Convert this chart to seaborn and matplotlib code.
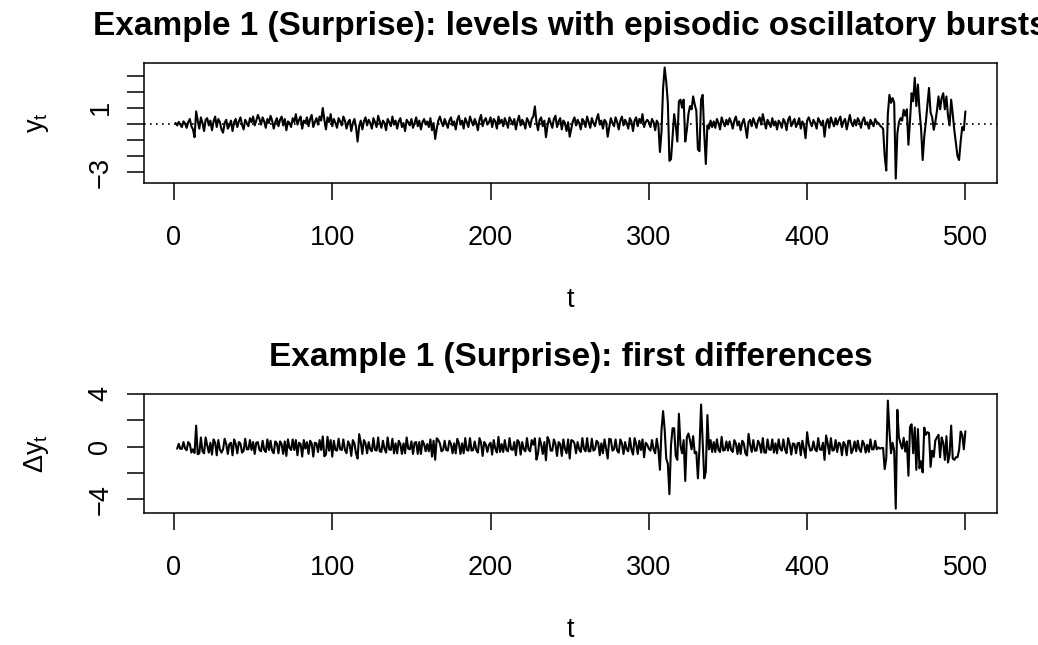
import numpy as np
import pandas as pd
import seaborn as sns
import matplotlib.pyplot as plt

# === Data: levels y_t (t = 1..500) ===
quiet_1 = [
    0.05, -0.10, 0.12, -0.05, -0.20, 0.15, 0.02, -0.25, 0.10, 0.30,
    -0.15, -0.35, -0.83, 0.77, 0.20, -0.30, 0.40, 0.05, -0.45, 0.25,
    0.35, -0.10, 0.20, -0.40, 0.15, 0.45, -0.20, 0.30, 0.10, -0.35,
    -0.55, 0.05, 0.25, -0.30, -0.10, 0.20, -0.45, 0.10, 0.30, -0.20,
    0.15, 0.40, -0.05, -0.35, 0.25, 0.05, -0.15, 0.35, 0.10, 0.45,
    -0.10, 0.20, 0.55, 0.30, -0.05, 0.40, 0.15, -0.25, 0.30, 0.05,
    0.50, 0.20, -0.30, 0.10, 0.35, -0.15, 0.25, 0.45, -0.10, 0.30,
    -0.40, 0.15, 0.05, -0.20, 0.35, 0.10, 0.60, -0.05, 0.25, 0.45,
    -0.30, 0.20, 0.05, 0.40, -0.15, 0.30, 0.55, -0.20, 0.10, 0.35,
    -0.05, 0.45, 0.20, 0.98, 0.25, -0.35, 0.40, 0.10, 0.60, -0.15,
    0.30, 0.05, -0.25, 0.35, 0.15, -0.10, 0.45, 0.20, -0.30, 0.10,
    0.25, -0.45, 0.05, 0.30, -0.20, -1.10, -0.15, 0.20, -0.35, 0.15,
    0.40, -0.10, 0.25, 0.05, -0.30, 0.35, 0.10, -0.20, 0.50, 0.15,
    -0.25, 0.20, 0.05, -0.40, 0.30, 0.10, -0.15, 0.45, -0.05, 0.20,
    -0.30, 0.15, 0.35, -0.20, 0.05, -0.45, 0.25, 0.10, -0.10, 0.30,
    -0.25, 0.05, 0.40, -0.15, 0.20, -0.35, 0.10, 0.30, -0.05, 0.15,
    -0.20, 0.35, -0.40, 0.05, -0.94, -0.30, 0.20, 0.45, 0.10, -0.15,
    0.30, 0.05, -0.25, 0.20, 0.40, -0.10, 0.15, -0.35, 0.25, 0.50,
    -0.05, 0.20, -0.30, 0.35, 0.10, -0.20, 0.45, 0.15, -0.10, 0.30,
    0.05, -0.40, 0.25, 0.55, -0.15, 0.20, 0.35, -0.05, 0.10, 0.40,
    -0.20, 0.30, 0.15, -0.30, 0.45, 0.05, 0.25, -0.15, 0.35, 0.10,
    -0.25, 0.40, 0.20, -0.05, 0.30, -0.35, 0.15, 0.50, -0.10, 0.25,
    0.05, -0.30, 0.35, 0.15, -0.20, 0.30, 0.45, 1.08, 0.10, -0.40,
    0.25, 0.40, -0.15, 0.20, -0.83, -0.10, 0.35, 0.05, -0.25, 0.30,
    0.50, -0.20, 0.15, 0.35, -0.35, 0.20, 0.05, -0.45, 0.10, -0.80,
    -0.30, 0.15, 0.40, -0.10, 0.25, 0.05, -0.35, 0.30, 0.15, -0.20,
    0.45, 0.10, -0.25, 0.35, 0.05, -0.15, 0.30, 0.60, -0.05, 0.20,
    -0.30, 0.25, 0.10, -0.80, -0.20, 0.35, 0.05, -0.15, 0.40, 0.10,
    -0.35, 0.20, 0.45, -0.10, 0.25, 0.05, -0.30, 0.35, 0.15, -0.45,
    0.20, 0.40, -0.15, 0.30, 0.05, 0.60, -0.20, 0.10, 0.25,
]
burst_1 = [
    0.10, -0.20, 0.30, 0.10, -0.40, 0.20, 0.00,
    -1.75, -0.50, 2.20, 3.50, 2.60, 1.30, -2.30, -2.20, -0.80, 0.60,
    -0.10, -1.10, 1.40, 1.50, 1.00, 1.50, -1.10, -0.40, 0.60, 1.10,
    0.90, 1.70, 1.20, 0.80, -1.60, -1.70, 1.50, 1.80, -0.60, -2.50,
    -0.10, -0.30, 0.20, -0.20,
]
quiet_2 = [
    0.15, -0.25, 0.30, 0.05, -0.35, 0.40, 0.10, -0.15, 0.25, -0.05,
    0.35, 0.10, -0.30, 0.20, 0.45, -0.10, 0.15, -0.40, 0.05, 0.30,
    -0.20, -0.87, 0.10, 0.25, -0.15, 0.35, 0.05, -0.25, 0.20, 0.40,
    -0.05, 0.60, 0.15, -0.30, 0.25, 0.05, -0.20, 0.35, -0.10, 0.15,
    -0.35, 0.20, 0.05, -0.25, 0.30, 0.10, -0.40, 0.25, 0.45, -0.15,
    0.10, 0.30, -0.20, 0.05, 0.35, -0.30, 0.15, -0.05, -0.90, 0.20,
    0.40, 0.10, -0.15, 0.25, 0.05, -0.30, 0.35, 0.15, -0.10, 0.20,
    -0.80, 0.05, 0.30, -0.25, 0.40, 0.10, -0.15, 0.35, -0.05, 0.25,
    0.45, -0.20, 0.15, 0.30, -0.35, 0.10, 0.55, 0.05, -0.15, 0.25,
    -0.10, 0.35, 0.15, -0.25, 0.20, 0.40, -0.05, 0.10, -0.30, 0.25,
    0.05, -0.15, 0.30, 0.10, 0.05, -0.10,
]
burst_2 = [
    -0.20, -0.30, -2.00, -2.90, 0.60, 1.80, 1.30, 1.60, 1.30, -3.40,
    -0.60, 0.10, 0.35, 0.20, 0.87, 0.50, 0.90, -1.30, 0.20, 1.90,
    1.40, 2.86, 1.10, 2.44, 0.80, -0.30, -2.25, -0.80, 0.10, 1.20,
    2.23, 0.70, 0.40, -0.37, 0.10, 0.80, 1.70, 0.90, 1.60, 1.90,
    0.90, 1.70, 0.50, -0.10, 1.50, 0.60, -0.40, -1.20, -2.00, -2.25,
    -1.10, -0.20, -0.40, 0.77,
]

titles = ["Example 1 (Surprise): levels with episodic oscillatory bursts",
          "Example 1 (Surprise): first differences"]
ylabels = [r"$\mathregular{y_t}$", r"$\mathregular{\Delta y_t}$"]
xticks = [0, 100, 200, 300, 400, 500]
top_yticks = [-3, -2, -1, 0, 1, 2, 3]
top_ylabels = ["\u22123", "", "", "", "1", "", ""]
bot_yticks = [-4, -2, 0, 2, 4]
bot_ylabels = ["\u22124", "", "0", "", "4"]

y = np.array(quiet_1 + burst_1 + quiet_2 + burst_2)
t = np.arange(1, len(y) + 1)
levels = pd.DataFrame({"t": t, "y": y})
diffs = pd.DataFrame({"t": t[1:], "dy": np.diff(y)})

# === Style ===
sns.set_theme(style="white")
plt.rcParams["font.family"] = ["Liberation Sans", "DejaVu Sans"]
plt.rcParams["mathtext.fontset"] = "custom"
plt.rcParams["mathtext.rm"] = "Liberation Sans"
plt.rcParams["text.color"] = "black"
plt.rcParams["axes.labelcolor"] = "black"
plt.rcParams["xtick.color"] = "black"
plt.rcParams["ytick.color"] = "black"


def r_limits(v):
    pad = (v.max() - v.min()) * 0.04
    return v.min() - pad, v.max() + pad


fig = plt.figure(figsize=(10.38, 6.45), dpi=100)
ax1 = fig.add_axes([0.1387, 0.7163, 0.8218, 0.186])
ax2 = fig.add_axes([0.1387, 0.2047, 0.8218, 0.1845])

sns.lineplot(data=levels, x="t", y="y", ax=ax1, color="black", lw=1.5)
ax1.axhline(0, color="black", ls=(0, (1, 2.6)), lw=1.2)
sns.lineplot(data=diffs, x="t", y="dy", ax=ax2, color="black", lw=1.5)

panels = [(ax1, y, top_yticks, top_ylabels), (ax2, np.diff(y), bot_yticks, bot_ylabels)]
for i, (ax, v, yt, yl) in enumerate(panels):
    ax.set_xlim(r_limits(t))
    ax.set_ylim(r_limits(v))
    ax.set_xticks(xticks)
    ax.set_xticklabels([str(x) for x in xticks])
    ax.set_yticks(yt)
    ax.set_yticklabels(yl, rotation=90, va="center")
    ax.tick_params(direction="out", length=12, width=1.1, color="black",
                   labelsize=19.5, left=True, bottom=True)
    ax.tick_params(axis="x", pad=18)
    ax.tick_params(axis="y", pad=10)
    for s in ax.spines.values():
        s.set_color("black")
        s.set_linewidth(1.1)
    ax.set_title(titles[i], fontsize=24, fontweight="bold", pad=20)
    ax.set_xlabel("t", fontsize=19.5, labelpad=26)
    ax.set_ylabel(ylabels[i], fontsize=19.5, labelpad=26)

fig.savefig("out.png", dpi=100)
